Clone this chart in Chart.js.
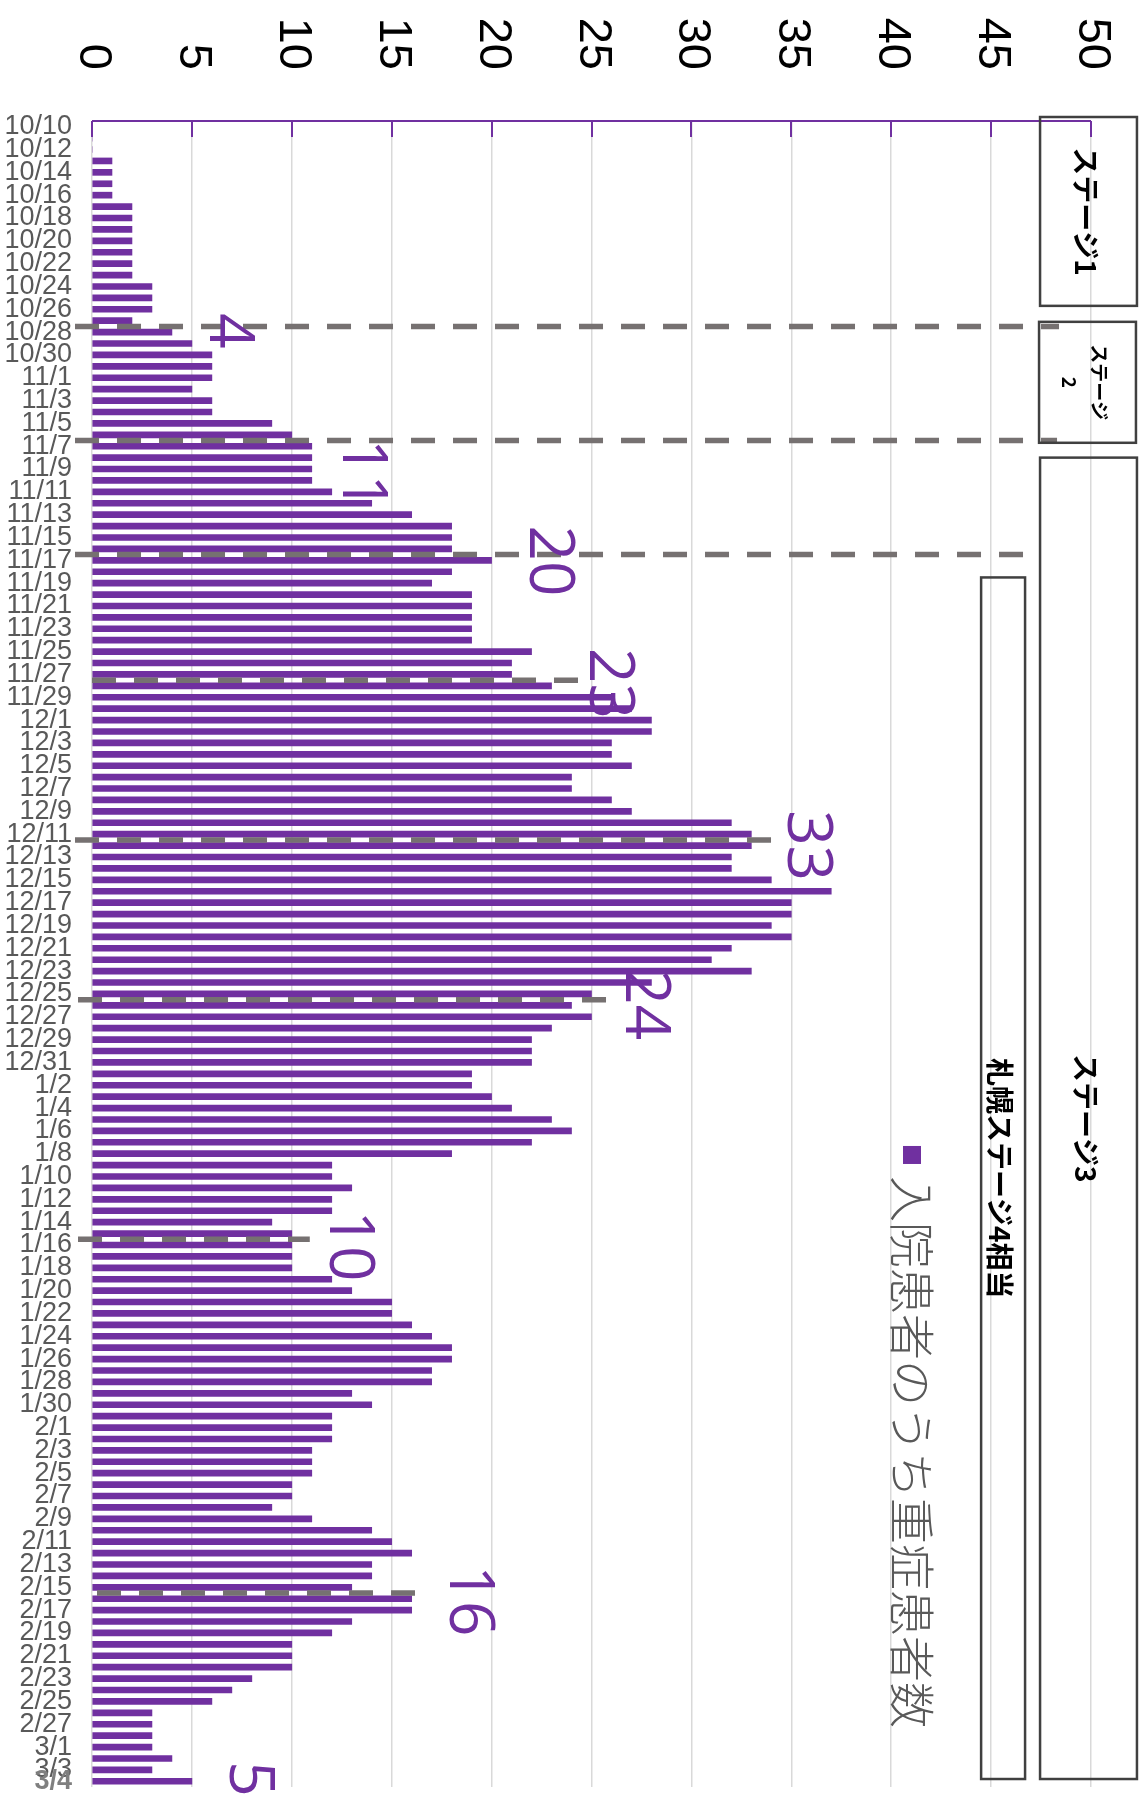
<!DOCTYPE html>
<html>
<head>
<meta charset="utf-8">
<script src="https://cdn.jsdelivr.net/npm/chart.js@4.4.1/dist/chart.umd.min.js"></script>
<style>
html,body{margin:0;padding:0;background:#fff;}
canvas{display:block;}
</style>
</head>
<body>
<canvas id="c" width="1142" height="1805"></canvas>
<script>
// ---- categories (dates) ----
const datesOct = ['10/10','10/11','10/12','10/13','10/14','10/15','10/16','10/17','10/18','10/19','10/20','10/21','10/22','10/23','10/24','10/25','10/26','10/27','10/28','10/29','10/30','10/31'];
const datesNov = ['11/1','11/2','11/3','11/4','11/5','11/6','11/7','11/8','11/9','11/10','11/11','11/12','11/13','11/14','11/15','11/16','11/17','11/18','11/19','11/20','11/21','11/22','11/23','11/24','11/25','11/26','11/27','11/28','11/29','11/30'];
const datesDec = ['12/1','12/2','12/3','12/4','12/5','12/6','12/7','12/8','12/9','12/10','12/11','12/12','12/13','12/14','12/15','12/16','12/17','12/18','12/19','12/20','12/21','12/22','12/23','12/24','12/25','12/26','12/27','12/28','12/29','12/30','12/31'];
const datesJan = ['1/1','1/2','1/3','1/4','1/5','1/6','1/7','1/8','1/9','1/10','1/11','1/12','1/13','1/14','1/15','1/16','1/17','1/18','1/19','1/20','1/21','1/22','1/23','1/24','1/25','1/26','1/27','1/28','1/29','1/30','1/31'];
const datesFeb = ['2/1','2/2','2/3','2/4','2/5','2/6','2/7','2/8','2/9','2/10','2/11','2/12','2/13','2/14','2/15','2/16','2/17','2/18','2/19','2/20','2/21','2/22','2/23','2/24','2/25','2/26','2/27','2/28'];
const datesMar = ['3/1','3/2','3/3','3/4'];

// ---- series values: 入院患者のうち重症患者数 ----
const valsOct = [0,0,0,1,1,1,1,2,2,2,2,2,2,2,3,3,3,2,4,5,6,6];
const valsNov = [6,5,6,6,9,10,11,11,11,11,12,14,16,18,18,18,20,18,17,19,19,19,19,19,22,21,21,23,26,27];
const valsDec = [28,28,26,26,27,24,24,26,27,32,33,33,32,32,34,37,35,35,34,35,32,31,33,28,25,24,25,23,22,22,22];
const valsJan = [19,19,20,21,23,24,22,18,12,12,13,12,12,9,10,10,10,10,12,13,15,15,16,17,18,18,17,17,13,14,12];
const valsFeb = [12,12,11,11,11,10,10,9,11,14,15,16,14,14,13,16,16,13,12,10,10,10,8,7,6,3,3,3];
const valsMar = [3,4,3,5];

const seriesLabel = '入院患者のうち重症患者数';

// ---- value-axis tick labels ----
const valueTicks = [0,5,10,15,20,25,30,35,40,45,50];

// ---- marker dates (dashed lines) and their callout values ----
const markerDates = ['10/28','11/7','11/17','11/28','12/12','12/26','1/16','2/16'];
const calloutTexts = ['4','11','20','23','33','24','10','16','5'];

// ---- stage bands ----
const stageNames = ['ステージ1','ステージ2','ステージ3','札幌ステージ4相当'];

const labels = [].concat(datesOct, datesNov, datesDec, datesJan, datesFeb, datesMar);
const values = [].concat(valsOct, valsNov, valsDec, valsJan, valsFeb, valsMar);

// layout / style settings (kept apart from data)
const PURPLE = '#7030a0';
const DASH_GRAY = '#767171';
const BOX_GRAY = '#404040';
const markerLineExtent = [[-0.85,48.4],[-0.85,48.3],[-0.85,46.7],[0,24.7],[-0.85,34.4],[-0.7,26.1],[-0.7,10.9],[0.25,16.3]];
// callout positions in (value units, category-index units)
const calloutPos = [[6.8,17.9],[13.45,30.5],[22.8,38.05],[25.8,48.8],[35.7,63.0],[27.6,76.95],[12.8,98.1],[18.8,129.2],[7.8,144.8]];
// stage boxes: [xFromValue, xToValue, indexFrom, indexTo]
const stageBoxes = [[47.45,52.3,-0.85,15.7],[47.4,52.25,17.1,27.7],[47.45,52.3,29.0,144.8],[44.5,46.7,39.5,144.8]];

const overlay = {
  id: 'overlay',
  afterDatasetsDraw(chart) {
    const {ctx, chartArea, scales:{x, y}} = chart;
    const step = y.getPixelForValue(1) - y.getPixelForValue(0);
    const yAt = f => y.getPixelForValue(0) + f * step;

    // top axis line + inward ticks
    ctx.save();
    ctx.strokeStyle = PURPLE;
    ctx.lineWidth = 2;
    ctx.beginPath();
    ctx.moveTo(chartArea.left, chartArea.top);
    ctx.lineTo(chartArea.right, chartArea.top);
    valueTicks.forEach(v => {
      const px = Math.round(x.getPixelForValue(v));
      ctx.moveTo(px, chartArea.top);
      ctx.lineTo(px, chartArea.top + 16);
    });
    ctx.stroke();
    ctx.restore();

    // value tick labels, rotated clockwise
    ctx.save();
    ctx.fillStyle = '#000';
    ctx.font = '47px "Liberation Sans", Arial, sans-serif';
    valueTicks.forEach(v => {
      const px = x.getPixelForValue(v);
      ctx.save();
      ctx.translate(px + 1, 70);
      ctx.rotate(Math.PI / 2);
      ctx.textAlign = 'right';
      ctx.textBaseline = 'middle';
      ctx.fillText(String(v), 0, 0);
      ctx.restore();
    });
    ctx.restore();

    // dashed marker lines at the top edge of each marker date
    ctx.save();
    ctx.strokeStyle = DASH_GRAY;
    ctx.lineWidth = 5.5;
    ctx.setLineDash([24, 18]);
    markerDates.forEach((d, i) => {
      const idx = labels.indexOf(d);
      const py = yAt(idx - 0.5);
      const [a, b] = markerLineExtent[i];
      ctx.beginPath();
      ctx.moveTo(x.getPixelForValue(a), py);
      ctx.lineTo(x.getPixelForValue(b), py);
      ctx.stroke();
    });
    ctx.restore();

    // callout numbers
    ctx.save();
    ctx.fillStyle = PURPLE;
    ctx.font = '62px "Open Sans", "Liberation Sans", sans-serif';
    calloutTexts.forEach((t, i) => {
      const [v, f] = calloutPos[i];
      ctx.save();
      ctx.translate(x.getPixelForValue(v), yAt(f));
      ctx.rotate(Math.PI / 2);
      ctx.textAlign = 'center';
      ctx.textBaseline = 'middle';
      ctx.fillText(t, 0, 0);
      ctx.restore();
    });
    ctx.restore();

    // stage boxes
    ctx.save();
    ctx.strokeStyle = BOX_GRAY;
    ctx.lineWidth = 2.5;
    stageBoxes.forEach((bx, i) => {
      const x0 = x.getPixelForValue(bx[0]), x1 = x.getPixelForValue(bx[1]);
      const y0 = yAt(bx[2]), y1 = yAt(bx[3]);
      ctx.strokeRect(x0, y0, x1 - x0, y1 - y0);
      const cx = (x0 + x1) / 2, cy = (y0 + y1) / 2;
      ctx.save();
      ctx.fillStyle = '#000';
      ctx.textAlign = 'center';
      ctx.textBaseline = 'middle';
      if (i === 1) {
        ctx.font = 'bold 19px "Noto Sans CJK JP", sans-serif';
        ctx.translate(cx + 12, cy);
        ctx.rotate(Math.PI / 2);
        ctx.fillText(stageNames[i].slice(0, 4), 0, 0);
        ctx.fillText(stageNames[i].slice(4), 0, 30);
      } else {
        ctx.font = 'bold 28px "Noto Sans CJK JP", sans-serif';
        ctx.translate(cx - 3, cy);
        ctx.rotate(Math.PI / 2);
        ctx.fillText(stageNames[i], 0, 0);
      }
      ctx.restore();
    });
    ctx.restore();

    // legend (rotated)
    ctx.save();
    const ds = chart.data.datasets[0];
    const lx = 912, ly = yAt(90.2);
    ctx.fillStyle = ds.backgroundColor;
    ctx.fillRect(lx - 9, ly - 10, 18, 18);
    ctx.translate(lx, ly + 20);
    ctx.rotate(Math.PI / 2);
    ctx.fillStyle = '#595959';
    ctx.font = '300 46px "Noto Sans CJK JP", sans-serif';
    ctx.textAlign = 'left';
    ctx.textBaseline = 'middle';
    ctx.fillText(ds.label, 0, 0);
    ctx.restore();
  }
};

new Chart(document.getElementById('c'), {
  type: 'bar',
  data: {
    labels: labels,
    datasets: [{
      label: seriesLabel,
      data: values,
      backgroundColor: PURPLE,
      borderWidth: 0,
      barThickness: 6
    }]
  },
  options: {
    responsive: false,
    animation: false,
    indexAxis: 'y',
    layout: { padding: { left: 0, right: 51, top: 0, bottom: 18 } },
    plugins: { legend: { display: false }, tooltip: { enabled: false } },
    scales: {
      x: {
        position: 'top',
        min: 0, max: 50,
        ticks: { stepSize: 5, display: false },
        grid: { color: '#d9d9d9', lineWidth: 1.5, drawTicks: false },
        border: { display: false },
        afterFit(s) { s.height = 121; s.paddingLeft = 0; s.paddingRight = 0; }
      },
      y: {
        ticks: {
          autoSkip: false,
          padding: 20,
          color: (c) => c.index === labels.length - 1 ? '#7f7f7f' : '#595959',
          font: (c) => ({ family: '"Liberation Sans", Arial, sans-serif', size: 27, weight: c.index === labels.length - 1 ? 'bold' : 'normal' }),
          callback(v, i) { return (i % 2 === 0 || i === labels.length - 1) ? labels[i] : ''; }
        },
        grid: { display: false, drawTicks: false },
        border: { display: false },
        afterFit(s) { s.width = 92; s.paddingTop = 0; s.paddingBottom = 0; }
      }
    }
  },
  plugins: [overlay]
});
</script>
</body>
</html>
